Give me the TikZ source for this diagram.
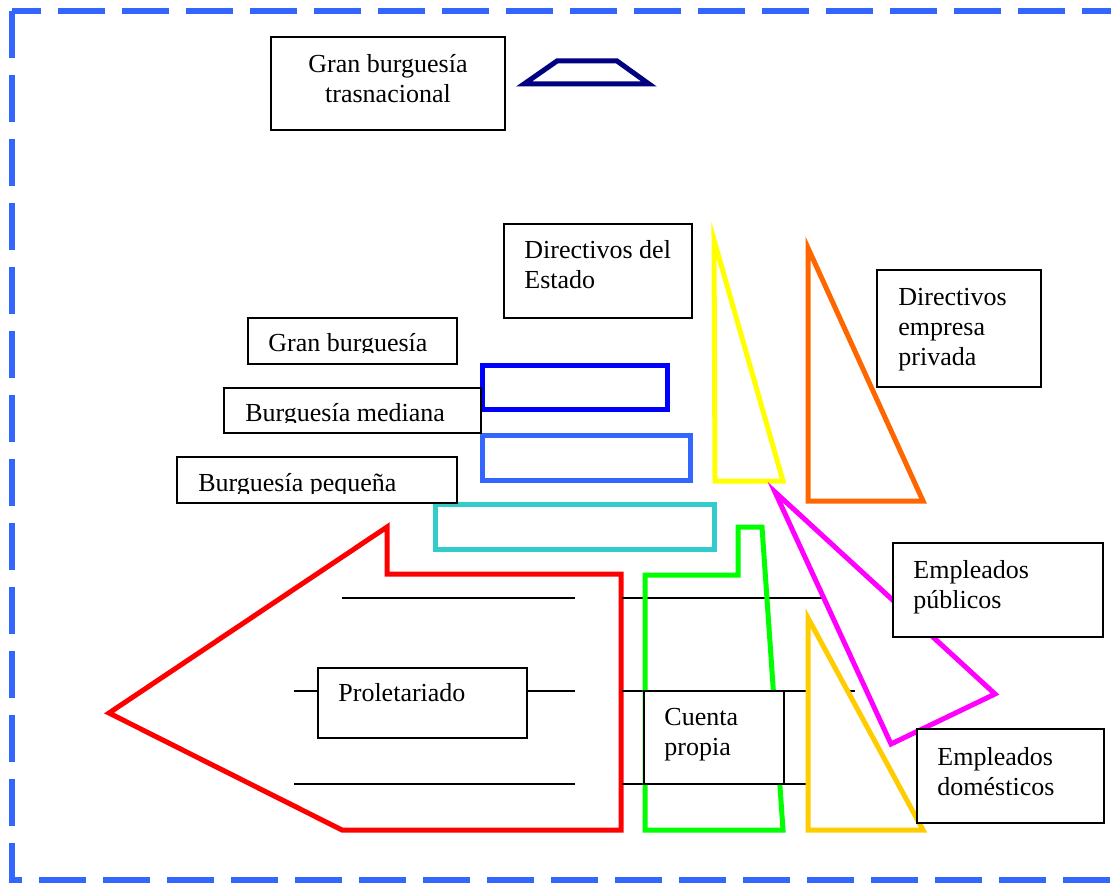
\documentclass[tikz,border=0pt]{standalone}
\usepackage{fontspec}
\setmainfont{Liberation Serif}
\usepackage{tikz}

\definecolor{marino}{HTML}{000080}
\definecolor{azul}{HTML}{0000FF}
\definecolor{azulmedio}{HTML}{3366FF}
\definecolor{turquesa}{HTML}{33CCCC}
\definecolor{amarillo}{HTML}{FFFF00}
\definecolor{naranja}{HTML}{FF6600}
\definecolor{fucsia}{HTML}{FF00FF}
\definecolor{rojo}{HTML}{FF0000}
\definecolor{verde}{HTML}{00FF00}
\definecolor{oro}{HTML}{FFCC00}

\newcommand{\fuente}{\fontsize{13}{15}\selectfont}
\newcommand{\lineas}[2][l]{\begin{tabular}[t]{@{}#1@{}}#2\end{tabular}}

\tikzset{
  clase/.style = {line width = 2.5pt},
  caja/.style = {draw = black, fill = white, line width = 1pt},
  raya/.style = {line width = 0.8pt},
  rotulo/.style = {inner sep = 0pt, anchor = base west, font = \fuente},
  borde/.style = {draw = azulmedio, line width = 3pt, dash pattern = on 23.5pt off 8.5pt}
}

\begin{document}
\begin{tikzpicture}[x = 0.5pt, y = -0.5pt]
    \useasboundingbox (0,0) rectangle (1111,882);
    \clip (0,0) rectangle (1111,882);

    \draw [borde] (12,11) -- (12,880) -- (1130,880);
    \draw [borde, dash phase = 9pt] (12,11) -- (1130,11);

    % cima
    \draw [clase, marino] (524,84) -- (557,61) -- (617,61) -- (649,84) -- cycle;
    \draw [caja] (271,37) rectangle (505,130);
    \node [rotulo, anchor = base] (gbt) at (388,73) {\lineas[c]{Gran burguesía\\trasnacional}};

    % directivos
    \draw [caja] (504,224) rectangle (692,318);
    \node [rotulo] (estado) at (524,258) {\lineas{Directivos del\\Estado}};
    \draw [clase, amarillo] (714,240) -- (715,481) -- (783,481) -- cycle;
    \draw [clase, naranja] (808,248) -- (808,501) -- (923,501) -- cycle;
    \draw [caja] (877,270) rectangle (1041,387);
    \node [rotulo] (privada) at (898,305) {\lineas{Directivos\\empresa\\privada}};

    % burguesia
    \draw [clase, azul] (482,365) rectangle (667,409);
    \draw [clase, azulmedio] (482,435) rectangle (690,480);
    \draw [clase, turquesa] (435,504) rectangle (714,549);

    \draw [caja] (248,318) rectangle (457,364);
    \begin{scope}
        \clip (248,318) rectangle (457,352.5);
        \node [rotulo] (gran) at (268,351) {Gran burguesía};
    \end{scope}
    \draw [caja] (224,388) rectangle (481,433);
    \begin{scope}
        \clip (224,388) rectangle (481,422.5);
        \node [rotulo] (mediana) at (245,421) {Burguesía mediana};
    \end{scope}
    \draw [caja] (177,457) rectangle (457,503);
    \begin{scope}
        \clip (177,457) rectangle (457,493);
        \node [rotulo] (pequena) at (198,491.5) {Burguesía pequeña};
    \end{scope}

    % proletariado
    \draw [clase, rojo] (387,527) -- (387,574) -- (621,574) -- (621,830)
        -- (342,830) -- (109,713) -- cycle;
    \draw [raya] (342,598) -- (575,598);
    \draw [raya] (294,691) -- (575,691);
    \draw [raya] (294,784) -- (575,784);
    \draw [caja] (318,668) rectangle (527,738);
    \node [rotulo] (prole) at (338,701) {Proletariado};

    % cuenta propia y empleados
    \draw [raya] (622,598) -- (855,598);
    \draw [raya] (622,691) -- (855,691);
    \draw [raya] (622,784) -- (855,784);
    \draw [clase, verde] (645,575) -- (738,575) -- (738,527) -- (762,527)
        -- (783,830) -- (645,830) -- cycle;
    \draw [caja] (644,691) rectangle (784,784);
    \node [rotulo] (cuenta) at (664,725) {\lineas{Cuenta\\propia}};

    \draw [clase, oro, fill = white] (808,618) -- (808,830) -- (923,830) -- cycle;
    \draw [clase, fucsia, fill = white] (775,492) -- (995,694) -- (891,744) -- cycle;

    \draw [caja] (893,543) rectangle (1103,637);
    \node [rotulo] (publicos) at (913,578) {\lineas{Empleados\\públicos}};
    \draw [caja] (917,729) rectangle (1104,823);
    \node [rotulo] (domesticos) at (937,765) {\lineas{Empleados\\domésticos}};
\end{tikzpicture}
\end{document}
